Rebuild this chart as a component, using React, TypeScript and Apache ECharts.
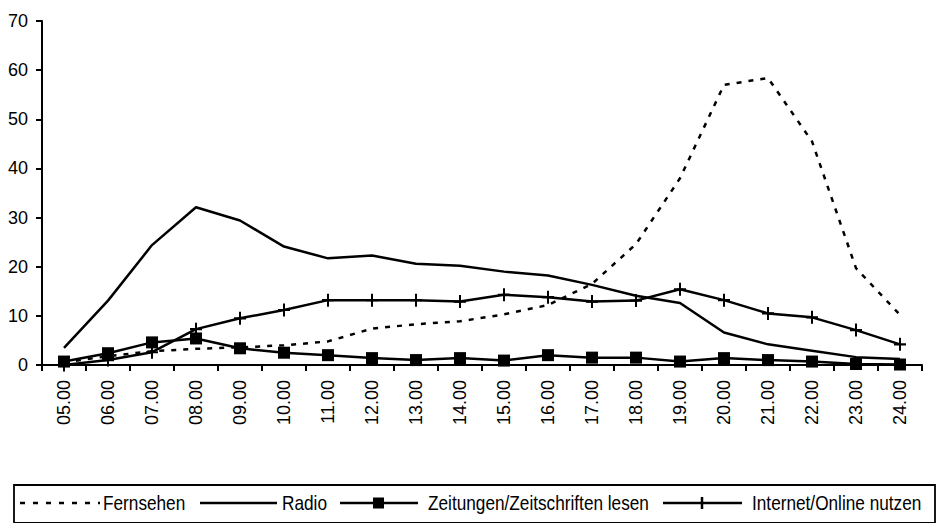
import React, { useEffect, useRef } from "react";
import * as echarts from "echarts";

const categories = ["05.00","06.00","07.00","08.00","09.00","10.00","11.00","12.00","13.00","14.00","15.00","16.00","17.00","18.00","19.00","20.00","21.00","22.00","23.00","24.00"];
const fernsehen = [0.5, 1.8, 2.8, 3.3, 3.6, 4.0, 4.8, 7.4, 8.3, 8.9, 10.3, 12.2, 16.5, 24.6, 38.0, 57.0, 58.4, 45.5, 19.7, 10.2];
const radio = [3.5, 13.1, 24.4, 32.1, 29.4, 24.1, 21.7, 22.3, 20.6, 20.2, 19.0, 18.2, 16.3, 14.1, 12.6, 6.6, 4.2, 2.9, 1.6, 1.2];
const zeitungen = [0.7, 2.4, 4.6, 5.4, 3.4, 2.5, 2.0, 1.4, 1.0, 1.4, 0.9, 2.0, 1.5, 1.5, 0.7, 1.4, 1.0, 0.7, 0.2, 0.1];
const internet = [0.0, 1.0, 2.6, 7.3, 9.5, 11.2, 13.2, 13.2, 13.2, 12.9, 14.3, 13.8, 12.9, 13.1, 15.4, 13.2, 10.5, 9.7, 7.1, 4.2];
const seriesNames = ["Fernsehen", "Radio", "Zeitungen/Zeitschriften lesen", "Internet/Online nutzen"];

const PLUS = "path://M5,0 L7,0 L7,5 L12,5 L12,7 L7,7 L7,12 L5,12 L5,7 L0,7 L0,5 L5,5 Z";
const FONT = "'Liberation Sans', Arial, sans-serif";

export default function App() {
  const ref = useRef<HTMLDivElement>(null);
  useEffect(() => {
    const chart = echarts.init(ref.current!, null, { renderer: "svg" });
    const axisFont = { fontFamily: FONT, fontSize: 18, color: "#000" };
    const ly = 503;
    const lw = 2.5;
    const legendText = (name: string, x: number) => ({
      type: "text", x, y: ly, scaleX: 0.82,
      style: { text: name, font: `21px ${FONT}`, fill: "#000", textVerticalAlign: "middle", textAlign: "left" },
    });
    const legendLine = (x1: number, x2: number, dashed = false) => ({
      type: "line", shape: { x1, y1: ly, x2, y2: ly },
      style: { stroke: "#000", lineWidth: lw, lineDash: dashed ? [5, 8] : null },
    });
    chart.setOption({
      animation: false,
      backgroundColor: "#fff",
      grid: { left: 42, right: 15, top: 21, bottom: 158, containLabel: false },
      graphic: [
        { type: "rect", shape: { x: 14, y: 485, width: 921, height: 38 }, style: { fill: "none", stroke: "#000", lineWidth: 1.8 } },
        legendLine(20, 100, true),
        legendText(seriesNames[0], 103),
        legendLine(200, 277),
        legendText(seriesNames[1], 282),
        legendLine(340, 418),
        { type: "rect", shape: { x: 373, y: ly - 5.5, width: 11, height: 11 }, style: { fill: "#000" } },
        legendText(seriesNames[2], 428),
        legendLine(663, 742),
        { type: "line", shape: { x1: 702, y1: ly - 6, x2: 702, y2: ly + 6 }, style: { stroke: "#000", lineWidth: lw } },
        legendText(seriesNames[3], 752),
      ],
      xAxis: {
        type: "category",
        data: categories,
        boundaryGap: true,
        axisLine: { lineStyle: { color: "#000", width: 2 } },
        axisTick: { show: true, length: 6, lineStyle: { color: "#000", width: 2 } },
        axisLabel: { ...axisFont, rotate: 90, margin: 15, interval: 0 },
      },
      yAxis: {
        type: "value",
        min: 0,
        max: 70,
        interval: 10,
        splitLine: { show: false },
        axisLine: { show: true, lineStyle: { color: "#000", width: 2 } },
        axisTick: { show: true, length: 6, lineStyle: { color: "#000", width: 2 } },
        axisLabel: { ...axisFont, margin: 14 },
      },
      series: [
        {
          name: seriesNames[0], type: "line", data: fernsehen, symbol: "none",
          lineStyle: { color: "#000", width: lw, type: [5, 7] }, itemStyle: { color: "#000" },
        },
        {
          name: seriesNames[1], type: "line", data: radio, symbol: "none",
          lineStyle: { color: "#000", width: lw }, itemStyle: { color: "#000" },
        },
        {
          name: seriesNames[2], type: "line", data: zeitungen, symbol: "rect", symbolSize: 12,
          lineStyle: { color: "#000", width: lw }, itemStyle: { color: "#000" },
        },
        {
          name: seriesNames[3], type: "line", data: internet, symbol: PLUS, symbolSize: [12, 13],
          lineStyle: { color: "#000", width: lw }, itemStyle: { color: "#000" },
        },
      ],
    });
    return () => chart.dispose();
  }, []);
  return <div ref={ref} style={{ position: "fixed", left: 0, top: 0, width: 937, height: 523 }} />;
}
